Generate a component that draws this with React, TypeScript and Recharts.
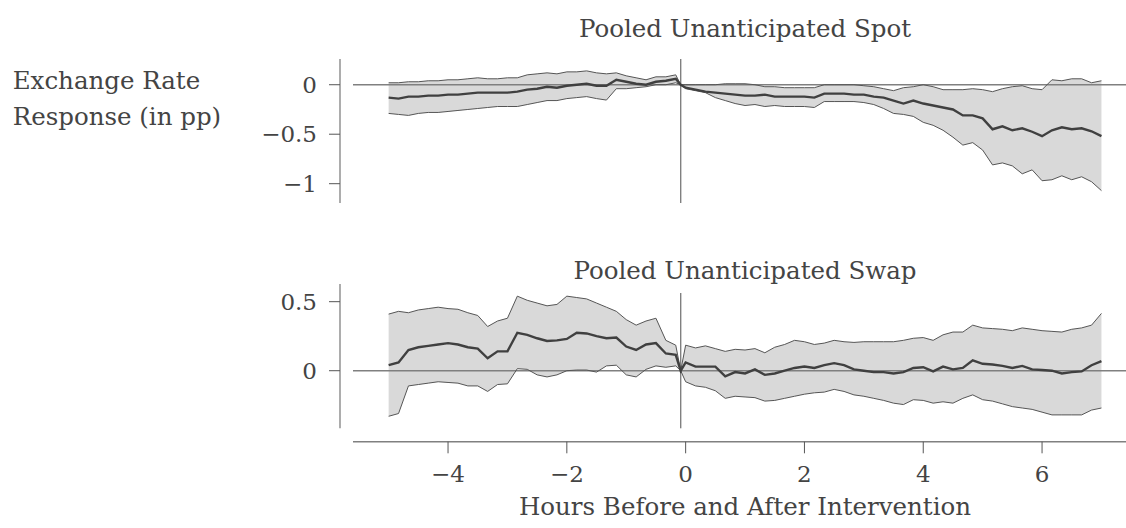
import React from 'react';
import { ComposedChart, Area, Line, XAxis, YAxis, ReferenceLine } from 'recharts';

// minutes relative to the intervention (last pre-intervention bin at -5)
const minutes = [
  -300, -290, -280, -270, -260, -250, -240, -230, -220, -210,
  -200, -190, -180, -170, -160, -150, -140, -130, -120, -110,
  -100, -90, -80, -70, -60, -50, -40, -30, -20, -10,
  -5,
  0, 10, 20, 30, 40, 50, 60, 70, 80, 90,
  100, 110, 120, 130, 140, 150, 160, 170, 180, 190,
  200, 210, 220, 230, 240, 250, 260, 270, 280, 290,
  300, 310, 320, 330, 340, 350, 360, 370, 380, 390,
  400, 410, 420,
];

const spotMean = [
  -0.13, -0.14, -0.12, -0.12, -0.11, -0.11, -0.1, -0.1, -0.09, -0.08,
  -0.08, -0.08, -0.08, -0.07, -0.05, -0.04, -0.02, -0.03, -0.01, 0.0,
  0.01, -0.01, -0.01, 0.05, 0.03, 0.01, 0.0, 0.03, 0.04, 0.06,
  0,
  -0.03, -0.05, -0.07, -0.08, -0.09, -0.1, -0.11, -0.11, -0.1, -0.12,
  -0.12, -0.12, -0.12, -0.13, -0.09, -0.09, -0.09, -0.1, -0.1, -0.12,
  -0.13, -0.16, -0.19, -0.16, -0.19, -0.21, -0.23, -0.25, -0.31, -0.31,
  -0.34, -0.45, -0.42, -0.46, -0.44, -0.475, -0.52, -0.46, -0.43, -0.45,
  -0.44, -0.47, -0.52,
];
const spotUpper = [
  0.02, 0.02, 0.03, 0.03, 0.04, 0.04, 0.05, 0.05, 0.06, 0.07,
  0.06, 0.06, 0.07, 0.07, 0.1, 0.11, 0.12, 0.11, 0.13, 0.13,
  0.14, 0.12, 0.11, 0.12, 0.09, 0.07, 0.05, 0.08, 0.08, 0.1,
  0,
  0.0, 0.0, 0.0, 0.0, 0.01, 0.01, 0.01, 0.0, -0.02, -0.02,
  -0.03, -0.03, -0.03, -0.03, 0.0, 0.0, 0.0, 0.0, -0.01, -0.02,
  -0.04, -0.06, -0.03, -0.02, 0.0, -0.02, -0.05, -0.05, -0.05, -0.04,
  -0.05, -0.07, -0.04, -0.02, -0.01, -0.04, -0.05, 0.05, 0.04, 0.06,
  0.06, 0.02, 0.04,
];
const spotLower = [
  -0.29, -0.3, -0.31, -0.29, -0.28, -0.28, -0.27, -0.26, -0.25, -0.24,
  -0.23, -0.22, -0.22, -0.22, -0.2, -0.18, -0.16, -0.16, -0.14, -0.13,
  -0.12, -0.14, -0.155, -0.04, -0.04, -0.03, -0.02, 0.0, 0.0, 0.02,
  0,
  -0.04, -0.06, -0.08, -0.13, -0.16, -0.19, -0.21, -0.2, -0.22, -0.21,
  -0.22, -0.22, -0.22, -0.23, -0.17, -0.17, -0.17, -0.17, -0.18, -0.2,
  -0.24, -0.29, -0.3, -0.32, -0.38, -0.41, -0.46, -0.53, -0.61, -0.585,
  -0.66, -0.81, -0.79, -0.82, -0.9, -0.86, -0.97, -0.96, -0.92, -0.96,
  -0.93, -0.98, -1.07,
];

const swapMean = [
  0.04, 0.06, 0.15, 0.17, 0.18, 0.19, 0.2, 0.19, 0.17, 0.16,
  0.09, 0.14, 0.14, 0.275, 0.26, 0.235, 0.215, 0.22, 0.23, 0.275,
  0.27, 0.25, 0.235, 0.24, 0.175, 0.15, 0.19, 0.2, 0.125, 0.115,
  0,
  0.06, 0.03, 0.03, 0.03, -0.04, -0.01, -0.02, 0.01, -0.03, -0.02,
  0.0, 0.02, 0.03, 0.02, 0.04, 0.055, 0.04, 0.01, 0.0, -0.01,
  -0.01, -0.02, -0.01, 0.02, 0.025, -0.005, 0.03, 0.01, 0.02, 0.075,
  0.05, 0.045, 0.035, 0.02, 0.035, 0.01, 0.005, 0.0, -0.02, -0.01,
  -0.005, 0.04, 0.07,
];
const swapUpper = [
  0.41, 0.43, 0.42, 0.44, 0.45, 0.46, 0.45, 0.445, 0.42, 0.4,
  0.32, 0.36, 0.38, 0.54, 0.51, 0.49, 0.47, 0.48, 0.54, 0.53,
  0.52, 0.49, 0.46, 0.43, 0.37, 0.33, 0.36, 0.38, 0.22, 0.185,
  0,
  0.185, 0.165, 0.18, 0.16, 0.14, 0.155, 0.15, 0.16, 0.13, 0.17,
  0.19, 0.22, 0.21, 0.19, 0.2, 0.22, 0.21, 0.205, 0.21, 0.21,
  0.21, 0.21, 0.22, 0.235, 0.24, 0.22, 0.26, 0.28, 0.28, 0.33,
  0.31, 0.305, 0.3, 0.29, 0.31, 0.3, 0.29, 0.285, 0.28, 0.3,
  0.31, 0.33, 0.415,
];
const swapLower = [
  -0.33, -0.31, -0.11, -0.1, -0.09, -0.08, -0.085, -0.09, -0.11, -0.11,
  -0.15, -0.1, -0.095, 0.015, 0.01, -0.03, -0.045, -0.03, 0.0, 0.005,
  0.005, -0.01, 0.035, 0.04, -0.03, -0.045, 0.01, 0.035, 0.025, 0.035,
  0,
  -0.08, -0.11, -0.12, -0.145, -0.2, -0.185, -0.19, -0.195, -0.22, -0.215,
  -0.2, -0.185, -0.17, -0.16, -0.155, -0.135, -0.15, -0.175, -0.185, -0.2,
  -0.215, -0.235, -0.245, -0.21, -0.215, -0.235, -0.225, -0.235, -0.2, -0.175,
  -0.21, -0.22, -0.24, -0.26, -0.27, -0.28, -0.3, -0.32, -0.32, -0.32,
  -0.32, -0.285, -0.27,
];

const hourTicks = [-240, -120, 0, 120, 240, 360];
const spotTicks = [-1, -0.5, 0];
const swapTicks = [0, 0.5];

const rows = minutes.map((m, i) => ({
  m,
  spotMean: spotMean[i],
  spotUpper: spotUpper[i],
  spotLower: spotLower[i],
  spotBand: [spotLower[i], spotUpper[i]],
  swapMean: swapMean[i],
  swapUpper: swapUpper[i],
  swapLower: swapLower[i],
  swapBand: [swapLower[i], swapUpper[i]],
}));

const FONT = "'DejaVu Serif', serif";
const TEXT = '#444';
const SPINE = '#808080';
// axes run from -5.6h to about 7.6h; the picture is cut at the right edge
const X_DOMAIN = [-336, 444.8];
const SWAP_DOMAIN = [-0.417, 0.628];
const minus = (v: number) => String(v).replace('-', '\u2212');

function HourTick(props: any) {
  const { x, y, payload } = props;
  return (
    <g>
      <line x1={x} x2={x} y1={y + 13.4} y2={y + 25} stroke="#555" strokeWidth={1} />
      <text x={x} y={y + 53.5} textAnchor="middle" fill={TEXT} fontSize={23} fontFamily={FONT}>
        {minus(payload.value / 60)}
      </text>
    </g>
  );
}

export default function App() {
  const yTick = { fill: TEXT, fontSize: 23, fontFamily: FONT };
  return (
    <div style={{ position: 'absolute', left: 0, top: 0, width: 1126, height: 528, background: '#fff', overflow: 'hidden' }}>
      <div style={{ position: 'absolute', left: 0, top: 0 }}>
        <ComposedChart width={1126} height={215} data={rows} margin={{ top: 59, right: 0, bottom: 12, left: 0 }}>
          <XAxis type="number" dataKey="m" domain={X_DOMAIN} padding={{ left: 13, right: 0 }} allowDataOverflow hide />
          <YAxis
            type="number"
            domain={[-1.195, 0.26]}
            ticks={spotTicks}
            width={340}
            allowDataOverflow
            tickSize={11}
            tickMargin={12}
            tick={yTick}
            tickFormatter={minus}
            tickLine={{ stroke: '#555' }}
            axisLine={{ stroke: SPINE, strokeWidth: 1.3 }}
          />
          <Area type="linear" dataKey="spotBand" fill="#d9d9d9" fillOpacity={1} stroke="none" isAnimationActive={false} />
          <ReferenceLine segment={[{ x: -336, y: 0 }, { x: 444.8, y: 0 }]} stroke={SPINE} strokeWidth={1.4} />
          <ReferenceLine x={-5} stroke={SPINE} strokeWidth={1.4} />
          <Line type="linear" dataKey="spotUpper" stroke="#555" strokeWidth={1} dot={false} isAnimationActive={false} />
          <Line type="linear" dataKey="spotLower" stroke="#555" strokeWidth={1} dot={false} isAnimationActive={false} />
          <Line type="linear" dataKey="spotMean" stroke="#404040" strokeWidth={2.4} dot={false} isAnimationActive={false} />
        </ComposedChart>
      </div>
      <div style={{ position: 'absolute', left: 0, top: 230 }}>
        <ComposedChart width={1126} height={298} data={rows} margin={{ top: 54, right: 0, bottom: 39.7, left: 0 }}>
          <XAxis
            type="number"
            dataKey="m"
            domain={X_DOMAIN}
            padding={{ left: 13, right: 0 }}
            allowDataOverflow
            ticks={hourTicks}
            interval={0}
            height={60}
            tickSize={0}
            tickMargin={0}
            tickLine={false}
            axisLine={false}
            tick={<HourTick />}
          />
          <YAxis
            type="number"
            domain={SWAP_DOMAIN}
            ticks={swapTicks}
            width={340}
            allowDataOverflow
            tickSize={11}
            tickMargin={12}
            tick={yTick}
            tickFormatter={minus}
            tickLine={{ stroke: '#555' }}
            axisLine={{ stroke: SPINE, strokeWidth: 1.3 }}
          />
          <Area type="linear" dataKey="swapBand" fill="#d9d9d9" fillOpacity={1} stroke="none" isAnimationActive={false} />
          <ReferenceLine segment={[{ x: -336, y: 0 }, { x: 444.8, y: 0 }]} stroke={SPINE} strokeWidth={1.4} />
          <ReferenceLine segment={[{ x: -5, y: SWAP_DOMAIN[0] }, { x: -5, y: 0.563 }]} stroke={SPINE} strokeWidth={1.4} />
          {/* offset bottom spine, drawn below the panel */}
          <ReferenceLine
            segment={[{ x: -336, y: -0.5145 }, { x: 444.8, y: -0.5145 }]}
            stroke={SPINE}
            strokeWidth={1.4}
            ifOverflow="visible"
          />
          <Line type="linear" dataKey="swapUpper" stroke="#555" strokeWidth={1} dot={false} isAnimationActive={false} />
          <Line type="linear" dataKey="swapLower" stroke="#555" strokeWidth={1} dot={false} isAnimationActive={false} />
          <Line type="linear" dataKey="swapMean" stroke="#404040" strokeWidth={2.4} dot={false} isAnimationActive={false} />
        </ComposedChart>
      </div>
      <svg width={1126} height={528} style={{ position: 'absolute', left: 0, top: 0, pointerEvents: 'none' }}>
        <g fill={TEXT} fontFamily={FONT} fontSize={24.5}>
          <text x={745} y={37} textAnchor="middle">Pooled Unanticipated Spot</text>
          <text x={745} y={279} textAnchor="middle">Pooled Unanticipated Swap</text>
          <text x={745} y={515} textAnchor="middle">Hours Before and After Intervention</text>
          <text x={12.7} y={89.3}>Exchange Rate</text>
          <text x={12.7} y={125}>Response (in pp)</text>
        </g>
      </svg>
    </div>
  );
}
